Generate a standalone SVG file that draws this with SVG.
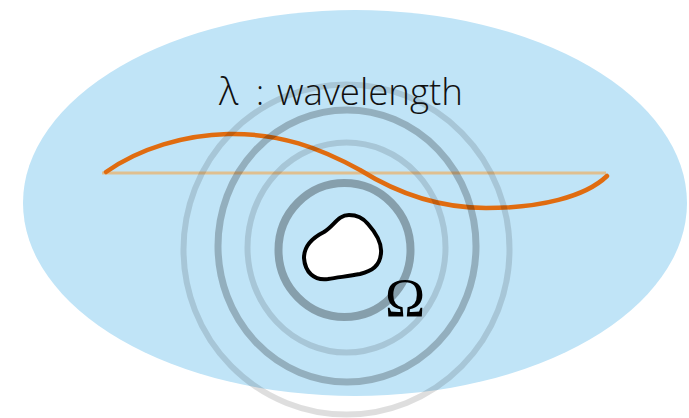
<svg xmlns="http://www.w3.org/2000/svg" width="689" height="418" viewBox="0 0 689 418">
<style>
.ring{fill:none;stroke:#000}
.txt{font-family:"Open Sans","Noto Sans",sans-serif;font-weight:300;fill:#111}
</style>
<rect width="689" height="418" fill="#fff"/>
<g id="domain"><ellipse cx="355" cy="203" rx="332" ry="193" fill="#c0e4f7"/></g>
<g id="wave">
<line x1="102" y1="173" x2="606" y2="173" stroke="#dfbf90" stroke-width="3"/>
<path d="M106,172 C140,148 185,135 228,134 C280,133 320,148 360,170 C400,195 440,208 486,208 C540,208 585,197 607,176" fill="none" stroke="#e06c10" stroke-width="4.5" stroke-linecap="round"/>
</g>
<g id="rings">
<ellipse class="ring" cx="346.5" cy="249.5" rx="163" ry="165" stroke-width="6" stroke-opacity="0.13"/>
<ellipse class="ring" cx="347" cy="246" rx="129" ry="136" stroke-width="7" stroke-opacity="0.23"/>
<ellipse class="ring" cx="346.5" cy="247.5" rx="99" ry="105" stroke-width="6" stroke-opacity="0.13"/>
<ellipse class="ring" cx="344.5" cy="250" rx="66" ry="67" stroke-width="8" stroke-opacity="0.3"/>
</g>
<g id="obstacle">
<path d="M349,215 C358,215 364,219 368,224 C376,233 382,243 381,253 C380,266 372,271 360,274 C350,276 340,277 328,279 C314,281 305,272 304,258 C304,246 312,238 324,232 C334,226 338,215 349,215 Z" fill="#fff" stroke="#000" stroke-width="4" stroke-linejoin="round"/>
</g>
<g id="labels">
<text class="txt" x="219" y="105" font-size="38">λ</text>
<text class="txt" x="256" y="105" font-size="34">:</text>
<text class="txt" x="277" y="105" font-size="36" textLength="186" lengthAdjust="spacingAndGlyphs">wavelength</text>
<text x="385" y="316" font-family="Liberation Serif,serif" font-size="54" fill="#000">Ω</text>
</g>
</svg>
